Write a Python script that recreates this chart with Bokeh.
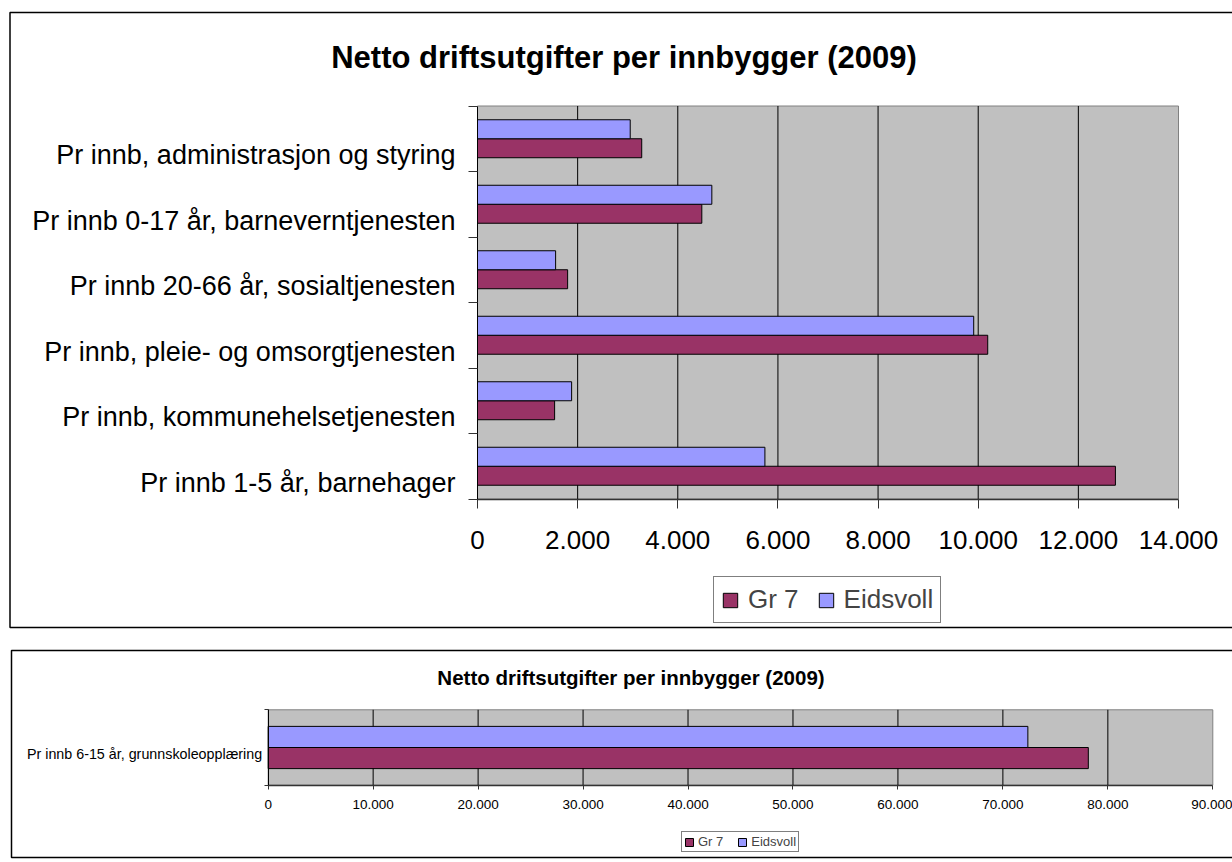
from bokeh.plotting import figure
from bokeh.models import (Range1d, FixedTicker, Legend, LegendItem, BoxAnnotation,
                          Label, ColumnDataSource)
from bokeh.layouts import column
from bokeh.embed import file_html
from bokeh.resources import INLINE

# ---------------- data ----------------
title_text = "Netto driftsutgifter per innbygger (2009)"
series_names = ["Gr 7", "Eidsvoll"]

# top chart, listed top-to-bottom as displayed
categories = [
    "Pr innb, administrasjon og styring",
    "Pr innb 0-17 år, barneverntjenesten",
    "Pr innb 20-66 år, sosialtjenesten",
    "Pr innb, pleie- og omsorgtjenesten",
    "Pr innb, kommunehelsetjenesten",
    "Pr innb 1-5 år, barnehager",
]
gr7 = [3280, 4480, 1800, 10190, 1540, 12740]
eidsvoll = [3050, 4680, 1560, 9910, 1880, 5740]
x_ticks = [0, 2000, 4000, 6000, 8000, 10000, 12000, 14000]
x_tick_labels = ["0", "2.000", "4.000", "6.000", "8.000", "10.000", "12.000", "14.000"]

# bottom chart
categories2 = ["Pr innb 6-15 år, grunnskoleopplæring"]
gr7_2 = [78140]
eidsvoll_2 = [72380]
x_ticks2 = [0, 10000, 20000, 30000, 40000, 50000, 60000, 70000, 80000, 90000]
x_tick_labels2 = ["0", "10.000", "20.000", "30.000", "40.000", "50.000",
                  "60.000", "70.000", "80.000", "90.000"]

C_GR7 = "#993366"
C_EID = "#9999FF"
C_PLOT = "#C0C0C0"
FONT = "Liberation Sans"
W = 1232


def linmap(p0, p1, v0, v1):
    """pixel -> data value along one dimension"""
    return lambda px: v0 + (px - p0) * (v1 - v0) / (p1 - p0)


def make_chart(H, cats, g_vals, e_vals, ticks, tick_labels, xmax,
               xpx, ypx, bar_h, label_shift, fs):
    n = len(cats)
    xm = linmap(xpx[0], xpx[1], 0, xmax)
    ym = linmap(ypx[0], ypx[1], 0, n)
    p = figure(width=W, height=H, title=None,
               x_range=Range1d(xm(0), xm(W)), y_range=Range1d(ym(H), ym(0)),
               output_backend="svg", toolbar_location=None,
               min_border=0, min_border_left=0, min_border_right=0,
               min_border_top=0, min_border_bottom=0)
    p.background_fill_color = "white"
    p.border_fill_color = "white"
    p.outline_line_color = None
    p.xgrid.visible = False
    p.ygrid.visible = False

    # plot area
    pa = p.quad(left=[0], right=[xmax], bottom=[0], top=[n], fill_color=C_PLOT,
                line_color="#808080", line_width=1)
    pa.level = "image"
    # vertical grid lines
    gt = ticks[1:-1]
    p.segment(x0=gt, x1=gt, y0=[0] * len(gt), y1=[n] * len(gt),
              line_color="black", line_width=1)

    centers = [n - 1 - i + 0.5 for i in range(n)]
    src = ColumnDataSource(dict(
        cat=cats, gr7=g_vals, eid=e_vals,
        yg=[c - bar_h / 2 for c in centers],
        ye=[c + bar_h / 2 for c in centers],
    ))
    rg = p.hbar(y="yg", left=0, right="gr7", height=bar_h, source=src,
                fill_color=C_GR7, line_color="black", line_width=1)
    re_ = p.hbar(y="ye", left=0, right="eid", height=bar_h, source=src,
                 fill_color=C_EID, line_color="black", line_width=1)

    ya = p.yaxis[0]
    ya.fixed_location = 0
    ya.bounds = (0, n)
    label_pos = [c - label_shift for c in centers]
    ya.ticker = FixedTicker(ticks=label_pos, minor_ticks=list(range(n + 1)))
    ya.major_label_overrides = {lp: c for lp, c in zip(label_pos, cats)}
    ya.major_tick_out = 0
    ya.major_tick_in = 0
    ya.minor_tick_in = 0
    ya.minor_tick_out = fs["tick"]
    ya.minor_tick_line_color = "#333333"
    ya.axis_line_color = "black"
    ya.axis_line_width = 1
    ya.major_label_text_font = FONT
    ya.major_label_text_font_size = fs["ylab"]
    ya.major_label_text_color = "black"
    ya.major_label_standoff = fs["ystand"]

    xa = p.xaxis[0]
    xa.fixed_location = 0
    xa.bounds = (0, xmax)
    xa.ticker = FixedTicker(ticks=ticks)
    xa.major_label_overrides = {t: l for t, l in zip(ticks, tick_labels)}
    xa.major_tick_out = fs["tick"]
    xa.major_tick_in = 0
    xa.major_tick_line_color = "#333333"
    xa.axis_line_color = "#333333"
    xa.axis_line_width = 1.5
    xa.major_label_text_font = FONT
    xa.major_label_text_font_size = fs["xlab"]
    xa.major_label_text_color = "black"
    xa.major_label_standoff = fs["xstand"]
    return p, xm, ym, rg, re_


# ---------------- top chart ----------------
H1 = 638
fs1 = dict(tick=9, ylab="27px", ystand=13, xlab="26px", xstand=23)
p1, xm1, ym1, rg1, re1 = make_chart(H1, categories, gr7, eidsvoll, x_ticks, x_tick_labels,
                                    14000, (477, 1178), (498.5, 105.5), 0.29, 0.25, fs1)
p1.add_layout(Label(x=xm1(623.5), y=ym1(57), text=title_text, text_font=FONT,
                    text_font_size="31px", text_font_style="bold", text_align="center",
                    text_baseline="alphabetic", text_color="black"))
p1.add_layout(BoxAnnotation(left=xm1(9.5), right=xm1(1500), top=ym1(12), bottom=ym1(627),
                            fill_alpha=0, line_color="black", line_alpha=1, line_width=1.5))
leg1 = Legend(items=[LegendItem(label=series_names[0], renderers=[rg1]),
                     LegendItem(label=series_names[1], renderers=[re1])],
              location=(713, H1 - 623), orientation="horizontal",
              glyph_width=18, glyph_height=18, label_standoff=9, spacing=18,
              padding=7, margin=0, label_text_font=FONT, label_text_font_size="26px",
              label_height=18, border_line_color="black", border_line_width=1,
              background_fill_color="white", background_fill_alpha=1)
p1.add_layout(leg1)

# ---------------- bottom chart ----------------
H2 = 224
fs2 = dict(tick=4, ylab="14.3px", ystand=2, xlab="13.5px", xstand=11)
p2, xm2, ym2, rg2, re2 = make_chart(H2, categories2, gr7_2, eidsvoll_2, x_ticks2, x_tick_labels2,
                                    90000, (267.7, 1212.3), (146.7, 71.3), 0.28, 0.08, fs2)
p2.add_layout(Label(x=xm2(630.5), y=ym2(39), text=title_text, text_font=FONT,
                    text_font_size="20.5px", text_font_style="bold", text_align="center",
                    text_baseline="alphabetic", text_color="black"))
p2.add_layout(BoxAnnotation(left=xm2(11), right=xm2(1500), top=ym2(12), bottom=ym2(219),
                            fill_alpha=0, line_color="black", line_alpha=1, line_width=1.5))
leg2 = Legend(items=[LegendItem(label=series_names[0], renderers=[rg2]),
                     LegendItem(label=series_names[1], renderers=[re2])],
              location=(681, H2 - 214), orientation="horizontal",
              glyph_width=10, glyph_height=10, label_standoff=4, spacing=14,
              padding=2, margin=0, label_text_font=FONT, label_text_font_size="13px",
              label_height=10, border_line_color="black", border_line_width=1,
              background_fill_color="white", background_fill_alpha=1)
p2.add_layout(leg2)

layout = column(p1, p2, spacing=0)
open("out.html", "w").write(file_html(layout, INLINE))
